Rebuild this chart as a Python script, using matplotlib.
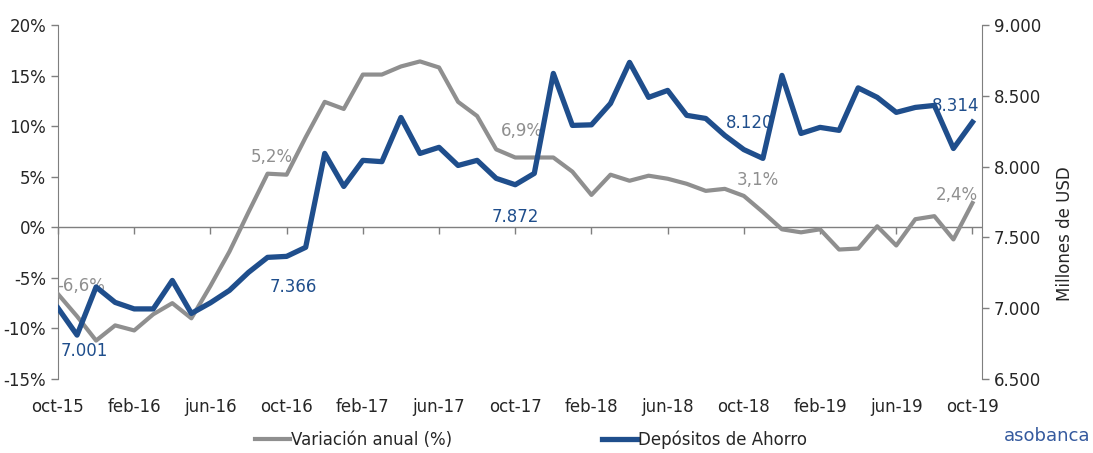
import numpy as np
import matplotlib
matplotlib.use('Agg')
from matplotlib import pyplot as plt
from matplotlib.ticker import FuncFormatter

# Series (oct-15 .. oct-19, monthly)
meses = ['oct-15', 'nov-15', 'dic-15', 'ene-16', 'feb-16', 'mar-16', 'abr-16', 'may-16',
         'jun-16', 'jul-16', 'ago-16', 'sep-16', 'oct-16', 'nov-16', 'dic-16', 'ene-17',
         'feb-17', 'mar-17', 'abr-17', 'may-17', 'jun-17', 'jul-17', 'ago-17', 'sep-17',
         'oct-17', 'nov-17', 'dic-17', 'ene-18', 'feb-18', 'mar-18', 'abr-18', 'may-18',
         'jun-18', 'jul-18', 'ago-18', 'sep-18', 'oct-18', 'nov-18', 'dic-18', 'ene-19',
         'feb-19', 'mar-19', 'abr-19', 'may-19', 'jun-19', 'jul-19', 'ago-19', 'sep-19',
         'oct-19']

variacion = [-6.6, -8.8, -11.2, -9.7, -10.2, -8.6, -7.5, -9.0,
             -5.8, -2.4, 1.5, 5.3, 5.2, 8.9, 12.4, 11.7,
             15.1, 15.1, 15.9, 16.4, 15.8, 12.4, 11.0, 7.7,
             6.9, 6.9, 6.9, 5.5, 3.2, 5.2, 4.6, 5.1,
             4.8, 4.3, 3.6, 3.8, 3.1, 1.5, -0.2, -0.5,
             -0.2, -2.2, -2.1, 0.1, -1.8, 0.8, 1.1, -1.2,
             2.4]

depositos = [7001, 6810, 7150, 7041, 6995, 6995, 7196, 6963,
             7038, 7126, 7253, 7359, 7366, 7430, 8093, 7860,
             8044, 8035, 8347, 8093, 8136, 8008, 8044, 7917,
             7872, 7952, 8658, 8291, 8295, 8446, 8736, 8489,
             8538, 8362, 8340, 8220, 8120, 8058, 8644, 8234,
             8277, 8256, 8556, 8489, 8383, 8418, 8432, 8128,
             8314]

# (index, text) of the value labels
etiquetas_var = [(0, '-6,6%'), (12, '5,2%'), (24, '6,9%'), (36, '3,1%'), (48, '2,4%')]
etiquetas_dep = [(0, '7.001'), (12, '7.366'), (24, '7.872'), (36, '8.120'), (48, '8.314')]

GRIS = '#8f8f8f'
AZUL = '#1f4e8c'
EJE = '#7f7f7f'
TXT = '#262626'

plt.rcParams['font.family'] = ['DejaVu Sans']

x = np.arange(len(meses))

fig = plt.figure(figsize=(10.93, 4.53), dpi=100)
ax = fig.add_axes([58 / 1093, 1 - 379 / 453, (982 - 58) / 1093, (379 - 25) / 453])
ax2 = ax.twinx()

l1, = ax.plot(x, variacion, color=GRIS, lw=3.0, label='Variación anual (%)', zorder=3)
l2, = ax2.plot(x, depositos, color=AZUL, lw=3.8, label='Depósitos de Ahorro', zorder=3)

ax.set_xlim(0, 48.5)
ax.set_ylim(-15, 20)
ax2.set_ylim(6500, 9000)
ax.set_yticks(np.arange(-15, 21, 5))
ax2.set_yticks(np.arange(6500, 9001, 500))
ax.yaxis.set_major_formatter(FuncFormatter(lambda v, p: f'{v:.0f}%'))
ax2.yaxis.set_major_formatter(FuncFormatter(lambda v, p: f'{v:,.0f}'.replace(',', '.')))

for a in (ax, ax2):
    for s in ('top', 'bottom'):
        a.spines[s].set_visible(False)
    a.tick_params(axis='y', labelsize=12, colors=EJE, labelcolor=TXT, length=5, width=1)
ax.spines['right'].set_visible(False)
ax2.spines['left'].set_visible(False)
ax.spines['left'].set_color(EJE)
ax2.spines['right'].set_color(EJE)

# x labels at the bottom, tick marks on the zero line
ax.set_xticks(x[::4])
ax.set_xticklabels(meses[::4], fontsize=12, color=TXT)
ax.tick_params(axis='x', length=0, pad=14)
ax.axhline(0, color=EJE, lw=1, zorder=1)
sec = ax.secondary_xaxis(15 / 35)
sec.set_xticks(x[::4])
sec.tick_params(axis='x', length=5, width=1, colors=EJE, labelbottom=False)
sec.spines['bottom'].set_visible(False)

# value labels
off_var = [(17, 6), (-11, 13), (5, 19), (10, 11.5), (-11.5, 6)]
off_dep = [(19, -31), (5, -22), (0, -23), (4, 19), (-12, 11.5)]
for (i, t), o in zip(etiquetas_var, off_var):
    ax.annotate(t, (x[i], variacion[i]), xytext=o, textcoords='offset points',
                ha='center', va='center', fontsize=12, color=GRIS, zorder=5)
for (i, t), o in zip(etiquetas_dep, off_dep):
    ax2.annotate(t, (x[i], depositos[i]), xytext=o, textcoords='offset points',
                 ha='center', va='center', fontsize=12, color=AZUL, zorder=5)

fig.text(1065 / 1093, 1 - 234 / 453, 'Millones de USD', rotation=90, ha='center',
         va='center', fontsize=12, color=TXT)

fig.legend(handles=[l1, l2], loc='center left', bbox_to_anchor=(255 / 1093, 1 - 440 / 453),
           ncol=2, frameon=False, fontsize=12, handlelength=2.1, handletextpad=0.05,
           columnspacing=9.0, borderpad=0, borderaxespad=0, labelcolor=TXT)

fig.text(1090 / 1093, 1 - 436 / 453, 'asobanca', ha='right', va='center', fontsize=13,
         color='#355a9e')

plt.savefig('out.png', dpi=100)
